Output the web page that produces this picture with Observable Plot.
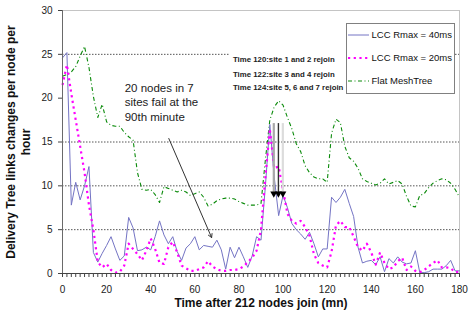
<!DOCTYPE html>
<html>
<head>
<meta charset="utf-8">
<script src="https://cdn.jsdelivr.net/npm/d3@7"></script>
<script src="https://cdn.jsdelivr.net/npm/@observablehq/plot@0.6"></script>
<style>
  html, body { margin: 0; padding: 0; background: #fff; }
  #chart svg { display: block; }
</style>
</head>
<body>
<div id="chart"></div>
<script>
// ---- data ----
const minutes = d3.range(0, 181, 2);
const lcc40 = [
  24.6, 25.2, 7.8, 10.4, 8.4, 10.0, 12.2, 2.4, 1.3, 2.3,
  3.2, 4.2, 2.8, 1.5, 2.0, 6.4, 5.2, 2.6, 2.7, 3.0,
  2.7, 4.2, 6.0, 4.4, 3.4, 4.2, 2.5, 1.5, 2.9, 3.4,
  4.2, 2.7, 3.2, 3.1, 3.0, 3.8, 2.7, 0.5, 3.0, 1.8,
  3.0, 1.9, 0.7, 2.0, 4.2, 3.8, 10.0, 17.0, 11.0, 6.6,
  8.9, 7.5, 5.7, 5.0, 4.5, 3.9, 4.7, 3.4, 1.9, 2.8,
  2.8, 8.7, 8.1, 8.7, 9.6, 8.0, 6.5, 3.0, 1.2, 1.4,
  1.5, 1.0, 1.9, 0.2, 1.7, 1.2, 1.9, 1.3, 1.1, 1.2,
  2.6, 0.1, 0.1, 0.2, 0.5, 0.5, 0.5, 0.9, 1.5, 0.3,
  0.3
];
const lcc20 = [
  21.5, 23.8, 20.5, 17.5, 14.5, 11.5, 7.8, 5.0, 1.3, 0.7,
  1.1, 0.4, 0.1, 0.2, 0.9, 3.4, 2.8, 2.2, 1.5, 2.6,
  4.0, 2.8, 1.2, 1.1, 3.0, 3.6, 2.4, 0.9, 0.6, 0.3,
  0.3, 0.5, 0.7, 1.4, 0.8, 0.5, 0.3, 0.3, 0.4, 0.4,
  0.5, 0.8, 1.3, 1.8, 2.6, 5.0, 11.0, 16.5, 12.0, 12.2,
  9.5, 6.8, 6.0, 5.7, 6.0, 5.3, 4.3, 2.2, 1.2, 0.9,
  0.7, 2.5, 5.5, 6.0, 5.3, 5.3, 4.2, 3.0, 2.6, 3.4,
  2.4, 1.0, 2.4, 1.2, 0.5, 0.7, 1.4, 1.8, 0.4, 0.8,
  0.3, 0.15, 0.4, 0.8, 1.2, 1.5, 0.7, 0.7, 0.6, 0.15,
  0.2
];
const flatMesh = [
  22.5, 22.7, 23.0, 23.6, 24.8, 25.9, 23.5, 20.2, 17.8, 19.3,
  17.3, 16.9, 16.8, 16.8, 16.1, 15.6, 15.2, 11.5, 9.6, 9.5,
  9.6, 9.0, 8.1, 9.9, 9.7, 9.5, 9.3, 9.5, 9.3, 8.9,
  9.1, 9.3, 8.7, 7.7, 7.9, 8.3, 8.5, 8.6, 8.6, 8.5,
  8.2, 8.0, 7.8, 7.8, 7.8, 8.0, 13.0, 17.5, 19.0, 19.7,
  19.2, 17.8, 16.5, 14.8, 13.9, 12.3, 11.5, 11.0, 10.8, 10.8,
  10.4, 16.0, 17.6, 17.2, 14.5, 13.2, 12.8, 12.0, 10.8, 10.5,
  10.3, 10.1, 10.3, 10.8, 10.2, 10.4, 10.6, 10.2, 8.8, 7.7,
  7.6, 8.9, 9.1, 9.8, 10.3, 10.6, 10.8, 10.7, 10.3, 9.6,
  8.7
];
const seriesNames = ["LCC Rmax = 40ms", "LCC Rmax = 20ms", "Flat MeshTree"];
const xMajorTicks = d3.range(0, 181, 20);
const xMinorTicks = d3.range(0, 181, 2);
const yTicks = d3.range(0, 31, 5);
const gridValues = [5, 10, 15, 25];
const xTitle = "Time after 212 nodes join (mn)";
const yTitle = "Delivery Tree links changes per node per\nhour";
const failNote = "20 nodes in 7\nsites fail at the\n90th minute";
const failArrow = [{x1: 48.2, y1: 15.4, x2: 67.6, y2: 4.1}];
const rejoinNotes = [
  {t: 77.3, v: 24.37, text: "Time 120:site 1 and 2 rejoin"},
  {t: 77.3, v: 22.66, text: "Time 122:site 3 and 4 rejoin"},
  {t: 77.3, v: 21.24, text: "Time 124:site 5, 6 and 7 rejoin"}
];
const rejoinBox = [{x1: 75.9, x2: 129, y1: 20.5, y2: 25.7}];
const rejoinLines = [
  {t: 95.8, top: 17.1, bottom: 9.0, color: "#a8a8a8", w: 2.2},
  {t: 97.9, top: 17.1, bottom: 9.0, color: "#303030", w: 1.4},
  {t: 99.9, top: 17.1, bottom: 9.0, color: "#dcdcdc", w: 2.2}
];

const rows = (vals) => minutes.map((m, i) => ({m, v: vals[i]}));
const font = "'Liberation Sans', Arial, Helvetica, sans-serif";

const chart = Plot.plot({
  width: 471,
  height: 322,
  marginLeft: 62,
  marginRight: 12,
  marginTop: 10,
  marginBottom: 49,
  x: {domain: [0, 180]},
  y: {domain: [0, 30]},
  color: {type: "identity"},
  style: {fontFamily: font, fontSize: "10px", color: "#222", background: "#fff", overflow: "visible"},
  marks: [
    Plot.ruleY(gridValues, {stroke: "#555", strokeDasharray: "1.5,1.5", strokeWidth: 1}),
    Plot.ruleY([30], {stroke: "#c4c4c4"}),
    Plot.ruleX([180], {stroke: "#c4c4c4"}),
    Plot.rect(rejoinBox, {x1: "x1", x2: "x2", y1: "y1", y2: "y2", fill: "#fff"}),
    Plot.line(rows(flatMesh), {x: "m", y: "v", stroke: "#0a8a0a", strokeWidth: 1.1, strokeDasharray: "4,2.5,1,2.5", strokeLinecap: "butt"}),
    Plot.line(rows(lcc40), {x: "m", y: "v", stroke: "#7474c4", strokeWidth: 1}),
    Plot.line(rows(lcc20), {x: "m", y: "v", stroke: "#ff00ff", strokeWidth: 2.2, strokeDasharray: "2.2,3.5", strokeLinecap: "butt"}),
    Plot.ruleX(rejoinLines, {x: "t", y1: "top", y2: "bottom", stroke: "color", strokeWidth: "w"}),
    Plot.dot(rejoinLines, {x: "t", y: "bottom", symbol: "triangle", r: 2.6, fill: "#000", stroke: null, rotate: 180, dy: -1}),
    Plot.arrow(failArrow, {x1: "x1", y1: "y1", x2: "x2", y2: "y2", stroke: "#333", strokeWidth: 1, headLength: 6, bend: 0}),
    Plot.text([failNote], {x: 28.2, y: 19.6, text: d => d, textAnchor: "start", lineAnchor: "middle", lineHeight: 1.3, fontSize: 11.5, fill: "#222"}),
    Plot.text(rejoinNotes, {x: "t", y: "v", text: "text", textAnchor: "start", fontSize: 7.8, fontWeight: "bold", fill: "#222"}),
    Plot.axisX({ticks: xMinorTicks, tickSize: 4, tickFormat: () => "", label: null, stroke: "#444"}),
    Plot.axisX({ticks: xMajorTicks, tickSize: 0, tickPadding: 12, label: null, fontSize: 10, fill: "#222"}),
    Plot.axisY({ticks: yTicks, tickSize: 4, tickPadding: 6, label: null, fontSize: 10, fill: "#222", stroke: "#444"}),
    Plot.ruleX([0], {stroke: "#6a6a6a"}),
    Plot.ruleY([0], {stroke: "#444"}),
    Plot.text([xTitle], {frameAnchor: "bottom", dy: 30, text: d => d, fontWeight: "bold", fontSize: 12, fill: "#111", lineAnchor: "middle"}),
    Plot.text([yTitle], {frameAnchor: "left", dx: -44.5, rotate: -90, text: d => d, fontWeight: "bold", fontSize: 12, fill: "#111", lineAnchor: "middle", textAnchor: "middle", lineHeight: 1.25})
  ]
});

// legend box
const svg = d3.select(chart);
const lg = svg.append("g").attr("font-family", font).attr("font-size", 9.5).attr("fill", "#111").attr("text-anchor", "start");
lg.append("rect").attr("x", 346.5).attr("y", 23.5).attr("width", 108).attr("height", 70)
  .attr("fill", "#fff").attr("stroke", "#808080").attr("stroke-width", 1);
const legendStyles = [
  {stroke: "#7474c4", width: 1, dash: null},
  {stroke: "#ff00ff", width: 2.2, dash: "2.2,3.5"},
  {stroke: "#0a8a0a", width: 1.1, dash: "4,2.5,1,2.5"}
];
const legendRowsY = [35, 58, 81];
seriesNames.forEach((name, i) => {
  const s = legendStyles[i];
  lg.append("line").attr("x1", 348).attr("x2", 369).attr("y1", legendRowsY[i]).attr("y2", legendRowsY[i])
    .attr("stroke", s.stroke).attr("stroke-width", s.width).attr("stroke-dasharray", s.dash);
  lg.append("text").attr("x", 371.5).attr("y", legendRowsY[i]).attr("dy", "0.35em").text(name);
});

document.getElementById("chart").appendChild(chart);
</script>
</body>
</html>
